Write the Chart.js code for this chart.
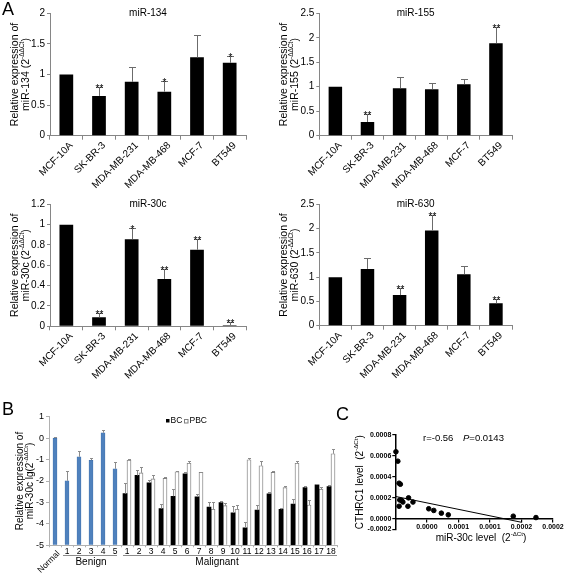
<!DOCTYPE html>
<html>
<head>
<meta charset="utf-8">
<script src="https://cdn.jsdelivr.net/npm/chart.js@4.4.0/dist/chart.umd.min.js"></script>
<style>
  body { margin: 0; background: #fff; }
  #figura { position: relative; width: 567px; height: 575px; overflow: hidden; font-family: "Liberation Sans", Arial, sans-serif; }
  canvas { position: absolute; }
  .letra { position: absolute; font-size: 18px; line-height: 18px; color: #000; }
</style>
</head>
<body>
<div id="figura">
  <canvas id="g134" width="262" height="190" style="left:0;top:0"></canvas>
  <canvas id="g155" width="262" height="190" style="left:270px;top:0"></canvas>
  <canvas id="g30c" width="262" height="190" style="left:0;top:190px"></canvas>
  <canvas id="g630" width="262" height="190" style="left:270px;top:190px"></canvas>
  <canvas id="gB" width="345" height="190" style="left:0;top:385px"></canvas>
  <canvas id="gC" width="222" height="175" style="left:345px;top:400px"></canvas>
  <div class="letra" style="left:2px;top:0">A</div>
  <div class="letra" style="left:2px;top:400px">B</div>
  <div class="letra" style="left:336px;top:405px">C</div>
</div>

<script>
// ---------- DADOS ----------

var linhagens = ["MCF-10A", "SK-BR-3", "MDA-MB-231", "MDA-MB-468", "MCF-7", "BT549"];

var mir134 = [1.0, 0.65, 0.88, 0.72, 1.28, 1.19];
var mir134Erro = [0, 0.15, 0.25, 0.18, 0.37, 0.12];
var mir134Sig = ["", "**", "", "*", "", "*"];
var mir134Ticks = [0, 0.5, 1, 1.5, 2];

var mir155 = [1.0, 0.28, 0.97, 0.95, 1.05, 1.89];
var mir155Erro = [0, 0.16, 0.22, 0.12, 0.11, 0.32];
var mir155Sig = ["", "**", "", "", "", "**"];
var mir155Ticks = [0, 0.5, 1, 1.5, 2, 2.5];

var mir30c = [1.0, 0.088, 0.857, 0.466, 0.753, 0.01];
var mir30cErro = [0, 0.046, 0.108, 0.098, 0.107, 0.032];
var mir30cSig = ["", "**", "*", "**", "**", "**"];
var mir30cTicks = [0, 0.2, 0.4, 0.6, 0.8, 1, 1.2];

var mir630 = [1.0, 1.17, 0.63, 1.96, 1.06, 0.46];
var mir630Erro = [0, 0.22, 0.14, 0.32, 0.16, 0.10];
var mir630Sig = ["", "", "**", "**", "", "**"];
var mir630Ticks = [0, 0.5, 1, 1.5, 2, 2.5];

// painel B
var amostrasB = ["Normal", "1", "2", "3", "4", "5",
  "1", "2", "3", "4", "5", "6", "7", "8", "9", "10", "11", "12", "13", "14", "15", "16", "17", "18"];
var normalBenigno = [0.0, -1.99, -0.87, -1.03, 0.25, -1.43,
  null, null, null, null, null, null, null, null, null, null, null, null, null, null, null, null, null, null];
var normalBenignoErro = [0.05, 0.46, 0.28, 0.10, 0.12, 0.31,
  0, 0, 0, 0, 0, 0, 0, 0, 0, 0, 0, 0, 0, 0, 0, 0, 0, 0];
var bcValores = [null, null, null, null, null, null,
  -2.59, -1.74, -2.09, -3.29, -2.71, -1.67, -2.74, -3.22, -3.01, -3.49, -4.19, -3.36, -2.60, -3.32, -3.08, -2.31, -2.18, -2.26];
var bcErro = [0, 0, 0, 0, 0, 0,
  0.49, 0.26, 0.14, 0.22, 0.34, 0.07, 0.12, 0.23, 0.10, 0.33, 0.26, 0.23, 0.08, 0.05, 0.25, 0.08, 0.05, 0.06];
var pbcValores = [null, null, null, null, null, null,
  -1.03, -1.62, -1.90, -1.88, -1.57, -1.17, -1.60, -3.32, -3.15, -3.32, -1.01, -1.29, -1.60, -2.31, -1.17, -3.12, -2.38, -0.73];
var pbcErro = [0, 0, 0, 0, 0, 0,
  0.05, 0.26, 0.19, 0.06, 0.04, 0.11, 0.04, 0.34, 0.11, 0.20, 0.08, 0.20, 0.06, 0.08, 0.08, 0.24, 0.09, 0.22];
var bTicks = [-5, -4, -3, -2, -1, 0, 1];

// painel C
var mir30cNivel = [-4.9e-5, -4.6e-5, -4.4e-5, -4.2e-5, -4.3e-5, -4.0e-5, -3.8e-5, -4.4e-5, -3.0e-5,
  -2.9e-5, -2.2e-5, 0.3e-5, 1.1e-5, 2.3e-5, 3.4e-5, 13.7e-5, 17.3e-5];
var cthrc1Nivel = [6.4e-4, 5.5e-4, 3.4e-4, 3.3e-4, 1.8e-4, 1.75e-4, 1.6e-4, 1.2e-4, 1.2e-4,
  2.0e-4, 1.6e-4, 0.96e-4, 0.8e-4, 0.54e-4, 0.38e-4, 0.25e-4, 0.12e-4];
var retaX = [-5e-5, 1.5e-4];
var retaY = [2.14e-4, -0.33e-4];
var cTicksX = [0, 5e-5, 1e-4, 1.5e-4, 2e-4];
var cRotulosX = ["0.0000", "0.0001", "0.0001", "0.0002", "0.0002"];
var cTicksY = [-1e-4, 0, 2e-4, 4e-4, 6e-4, 8e-4];
var cRotulosY = ["-0.0002", "0.0000", "0.0002", "0.0004", "0.0006", "0.0008"];

var FONTE = "'Liberation Sans', Arial, sans-serif";
var CINZA_EIXO = "#868686";

Chart.defaults.font.family = FONTE;
Chart.defaults.color = "#000";
Chart.defaults.animation = false;

// ---------- AUXILIARES ----------

function textoComExpoente(c, partes, x, y, rotacionado, tamanho) {
  c.save();
  c.translate(x, y);
  if (rotacionado) {
    c.rotate(-Math.PI / 2);
  }
  var total = 0;
  for (var i = 0; i < partes.length; i++) {
    c.font = (partes[i].sup ? tamanho * 0.62 : tamanho) + "px " + FONTE;
    total += c.measureText(partes[i].texto).width;
  }
  var cursor = -total / 2;
  c.textAlign = "left";
  c.textBaseline = "middle";
  for (var j = 0; j < partes.length; j++) {
    c.font = (partes[j].sup ? tamanho * 0.62 : tamanho) + "px " + FONTE;
    c.fillText(partes[j].texto, cursor, partes[j].sup ? -tamanho * 0.38 : 0);
    cursor += c.measureText(partes[j].texto).width;
  }
  c.restore();
}

function barraErro(c, x, yBase, yTopo, meiaCapa) {
  c.beginPath();
  c.moveTo(x, yBase);
  c.lineTo(x, yTopo);
  c.moveTo(x - meiaCapa, yTopo);
  c.lineTo(x + meiaCapa, yTopo);
  c.stroke();
}

function fixarTicks(lista) {
  return function (escala) {
    escala.ticks = lista.map(function (v) {
      return { value: v };
    });
  };
}

// ---------- PAINEL A ----------

function criarGraficoExpressao(idCanvas, titulo, nomeMir, valores, erros, sig, ticks, area) {
  var canvas = document.getElementById(idCanvas);
  var maximo = ticks[ticks.length - 1];

  var anotacoes = {
    id: "anotacoes",
    afterDatasetsDraw: function (chart) {
      var c = chart.ctx;
      var escalaY = chart.scales.y;
      var barras = chart.getDatasetMeta(0).data;
      var ca = chart.chartArea;

      c.save();
      c.strokeStyle = "#6b6b6b";
      c.lineWidth = 1;
      c.fillStyle = "#000";
      c.font = "10px " + FONTE;
      c.textAlign = "center";
      c.textBaseline = "alphabetic";
      for (var i = 0; i < barras.length; i++) {
        var x = Math.round(barras[i].x) + 0.5;
        var yTopo = escalaY.getPixelForValue(valores[i]);
        var yErro = escalaY.getPixelForValue(valores[i] + erros[i]);
        if (erros[i] > 0) {
          barraErro(c, x, yTopo, Math.round(yErro) + 0.5, 3.5);
        }
        if (sig[i]) {
          c.fillText(sig[i], x, yErro + 5);
        }
      }

      c.font = "10px " + FONTE;
      c.textBaseline = "middle";
      c.fillText(titulo, (ca.left + ca.right) / 2, ca.top);

      var meioY = (ca.top + ca.bottom) / 2;
      textoComExpoente(c, [{ texto: "Relative expression of", sup: false }],
        ca.left - 35, meioY, true, 10.5);
      textoComExpoente(c, [
        { texto: nomeMir + " (2", sup: false },
        { texto: "-\u0394\u0394Ct", sup: true },
        { texto: ")", sup: false }
      ], ca.left - 24, meioY, true, 10.5);
      c.restore();
    }
  };

  return new Chart(canvas, {
    type: "bar",
    data: {
      labels: linhagens,
      datasets: [
        {
          label: titulo,
          data: valores,
          backgroundColor: "#000",
          categoryPercentage: 1,
          barPercentage: 0.42,
        },
      ],
    },
    options: {
      responsive: false,
      layout: { padding: { left: 0, right: area.direita, top: area.topo, bottom: 0 } },
      plugins: { legend: { display: false }, tooltip: { enabled: false } },
      scales: {
        x: {
          grid: { drawOnChartArea: false, tickLength: 4, color: CINZA_EIXO, offset: true },
          border: { color: CINZA_EIXO },
          ticks: { minRotation: 45, maxRotation: 45, autoSkip: false, padding: 0, labelOffset: 5, font: { size: 10 } },
          afterFit: function (escala) { escala.height = area.alturaX; },
        },
        y: {
          min: 0,
          max: maximo,
          grid: { drawOnChartArea: false, tickLength: 3, color: CINZA_EIXO },
          border: { color: CINZA_EIXO },
          ticks: {
            padding: 2,
            font: { size: 10 },
            callback: function (valor) { return String(Math.round(valor * 100) / 100); },
          },
          afterBuildTicks: fixarTicks(ticks),
          afterFit: function (escala) { escala.width = area.larguraY; },
        },
      },
    },
    plugins: [anotacoes],
  });
}

criarGraficoExpressao("g134", "miR-134", "miR-134", mir134, mir134Erro, mir134Sig, mir134Ticks,
  { topo: 13.3, direita: 16, larguraY: 50, alturaX: 54.3 });
criarGraficoExpressao("g155", "miR-155", "miR-155", mir155, mir155Erro, mir155Sig, mir155Ticks,
  { topo: 13.3, direita: 20, larguraY: 49.3, alturaX: 54.3 });
criarGraficoExpressao("g30c", "miR-30c", "miR-30c", mir30c, mir30cErro, mir30cSig, mir30cTicks,
  { topo: 14.3, direita: 16, larguraY: 50, alturaX: 53.7 });
criarGraficoExpressao("g630", "miR-630", "miR-630", mir630, mir630Erro, mir630Sig, mir630Ticks,
  { topo: 14.3, direita: 20, larguraY: 49.3, alturaX: 54.3 });

// ---------- PAINEL B ----------

var anotacoesB = {
  id: "anotacoesB",
  afterDatasetsDraw: function (chart) {
    var c = chart.ctx;
    var escalaY = chart.scales.y;
    var escalaX = chart.scales.x;
    var ca = chart.chartArea;
    var series = [
      { valores: normalBenigno, erros: normalBenignoErro },
      { valores: bcValores, erros: bcErro },
      { valores: pbcValores, erros: pbcErro },
    ];

    c.save();
    c.strokeStyle = "#8c8c8c";
    c.lineWidth = 1;
    for (var s = 0; s < series.length; s++) {
      var barras = chart.getDatasetMeta(s).data;
      for (var i = 0; i < barras.length; i++) {
        var v = series[s].valores[i];
        if (v === null) continue;
        var x = Math.round(barras[i].x) + 0.5;
        barraErro(c, x, escalaY.getPixelForValue(v),
          Math.round(escalaY.getPixelForValue(v + series[s].erros[i])) + 0.5, 1.5);
      }
    }

    // rótulos do eixo x
    c.fillStyle = "#000";
    c.font = "8.5px " + FONTE;
    c.textAlign = "center";
    c.textBaseline = "middle";
    for (var k = 1; k < amostrasB.length; k++) {
      c.fillText(amostrasB[k], escalaX.getPixelForTick(k), ca.bottom + 6);
    }
    c.save();
    c.translate(escalaX.getPixelForTick(0) + 0.5, ca.bottom + 4);
    c.rotate(-Math.PI / 4);
    c.textAlign = "right";
    c.textBaseline = "top";
    c.fillText(amostrasB[0], 0, 0);
    c.restore();

    // grupos
    var meio = (escalaX.getPixelForTick(1) - escalaX.getPixelForTick(0)) / 2;
    var yLinha = Math.round(ca.bottom + 10) + 0.5;
    c.strokeStyle = "#8c8c8c";
    c.beginPath();
    c.moveTo(escalaX.getPixelForTick(1) - meio + 2, yLinha);
    c.lineTo(escalaX.getPixelForTick(5) + meio - 4, yLinha);
    c.moveTo(escalaX.getPixelForTick(6) - meio + 2, yLinha);
    c.lineTo(escalaX.getPixelForTick(23) + meio, yLinha);
    c.stroke();
    c.font = "10px " + FONTE;
    c.fillText("Benign", (escalaX.getPixelForTick(1) + escalaX.getPixelForTick(5)) / 2, yLinha + 7);
    c.fillText("Malignant", (escalaX.getPixelForTick(13) + escalaX.getPixelForTick(14)) / 2, yLinha + 7);

    // legenda
    c.font = "8.5px " + FONTE;
    c.textAlign = "left";
    c.fillStyle = "#000";
    c.fillRect(166, 34, 3.5, 3.5);
    c.fillText("BC", 170.5, 36);
    c.strokeStyle = "#7f7f7f";
    c.strokeRect(184.5, 34.5, 3.5, 3.5);
    c.fillText("PBC", 189.5, 36);

    // título do eixo y
    var meioY = (ca.top + ca.bottom) / 2;
    textoComExpoente(c, [{ texto: "Relative expression of", sup: false }], 20, meioY, true, 10);
    textoComExpoente(c, [
      { texto: "miR-30c lg(2", sup: false },
      { texto: "-\u0394\u0394Ct", sup: true },
      { texto: ")", sup: false }
    ], 30, meioY, true, 10);
    c.restore();
  }
};

new Chart(document.getElementById("gB"), {
  type: "bar",
  data: {
    labels: amostrasB,
    datasets: [
      { label: "Normal/Benign", data: normalBenigno, backgroundColor: "#4f81bd", borderColor: "#3a6aa6", borderWidth: 0.6, base: -5 },
      { label: "BC", data: bcValores, backgroundColor: "#000", base: -5 },
      { label: "PBC", data: pbcValores, backgroundColor: "#fff", borderColor: "#7f7f7f", borderWidth: 0.9, base: -5 },
    ],
  },
  options: {
    responsive: false,
    datasets: { bar: { skipNull: true, barThickness: 4 } },
    layout: { padding: { left: 0, right: 8, top: 31.7, bottom: 0 } },
    plugins: { legend: { display: false }, tooltip: { enabled: false } },
    scales: {
      x: {
        grid: { drawOnChartArea: false, tickLength: 2, color: "#b0b0b0", offset: true },
        border: { color: "#b0b0b0" },
        ticks: { display: false },
        afterFit: function (escala) { escala.height = 29.7; },
      },
      y: {
        min: -5,
        max: 1,
        grid: { drawOnChartArea: false, tickLength: 3, color: "#b0b0b0" },
        border: { color: "#b0b0b0" },
        ticks: { padding: 2, font: { size: 9 } },
        afterBuildTicks: fixarTicks(bTicks),
        afterFit: function (escala) { escala.width = 49; },
      },
    },
  },
  plugins: [anotacoesB],
});

// ---------- PAINEL C ----------

var pontosC = mir30cNivel.map(function (x, i) {
  return { x: x, y: cthrc1Nivel[i] };
});
var retaC = retaX.map(function (x, i) {
  return { x: x, y: retaY[i] };
});

var anotacoesC = {
  id: "anotacoesC",
  afterDraw: function (chart) {
    var c = chart.ctx;
    var ca = chart.chartArea;
    c.save();
    c.fillStyle = "#000";
    c.textBaseline = "middle";
    c.textAlign = "left";
    c.font = "9.5px " + FONTE;
    c.fillText("r=-0.56", 78, 38);
    c.font = "italic 9.5px " + FONTE;
    c.fillText("P", 118, 38);
    var larguraP = c.measureText("P").width;
    c.font = "9.5px " + FONTE;
    c.fillText("=0.0143", 118 + larguraP, 38);

    textoComExpoente(c, [
      { texto: "CTHRC1 level  (2", sup: false },
      { texto: "-\u0394Ct", sup: true },
      { texto: ")", sup: false }
    ], 15, (ca.top + ca.bottom) / 2, true, 10);
    textoComExpoente(c, [
      { texto: "miR-30c level  (2", sup: false },
      { texto: "-\u0394Ct", sup: true },
      { texto: ")", sup: false }
    ], 136, 138, false, 10);
    c.restore();
  }
};

new Chart(document.getElementById("gC"), {
  type: "scatter",
  data: {
    datasets: [
      { label: "amostras", data: pontosC, backgroundColor: "#000", borderColor: "#000", pointRadius: 2.3, clip: false },
      { type: "line", label: "regressão", data: retaC, borderColor: "#000", borderWidth: 1, pointRadius: 0, fill: false, clip: false },
    ],
  },
  options: {
    responsive: false,
    layout: { padding: { left: 0, right: 14, top: 35, bottom: 45.7 } },
    plugins: { legend: { display: false }, tooltip: { enabled: false } },
    scales: {
      x: {
        type: "linear",
        position: { y: 0 },
        min: -5e-5,
        max: 2e-4,
        grid: { drawOnChartArea: false, tickLength: 3, color: "#000", lineWidth: 1.2 },
        border: { color: "#000", width: 1.5 },
        ticks: {
          padding: 1,
          font: { size: 7, weight: "bold" },
          callback: function (valor, indice) { return cRotulosX[indice]; },
        },
        afterBuildTicks: fixarTicks(cTicksX),
      },
      y: {
        min: -1e-4,
        max: 8e-4,
        grid: { drawOnChartArea: false, tickLength: 3, color: "#000", lineWidth: 1.2 },
        border: { color: "#000", width: 1.5 },
        ticks: {
          padding: 1,
          font: { size: 7, weight: "bold" },
          callback: function (valor, indice) { return cRotulosY[indice]; },
        },
        afterBuildTicks: fixarTicks(cTicksY),
        afterFit: function (escala) { escala.width = 50.3; },
      },
    },
  },
  plugins: [anotacoesC],
});
</script>
</body>
</html>
